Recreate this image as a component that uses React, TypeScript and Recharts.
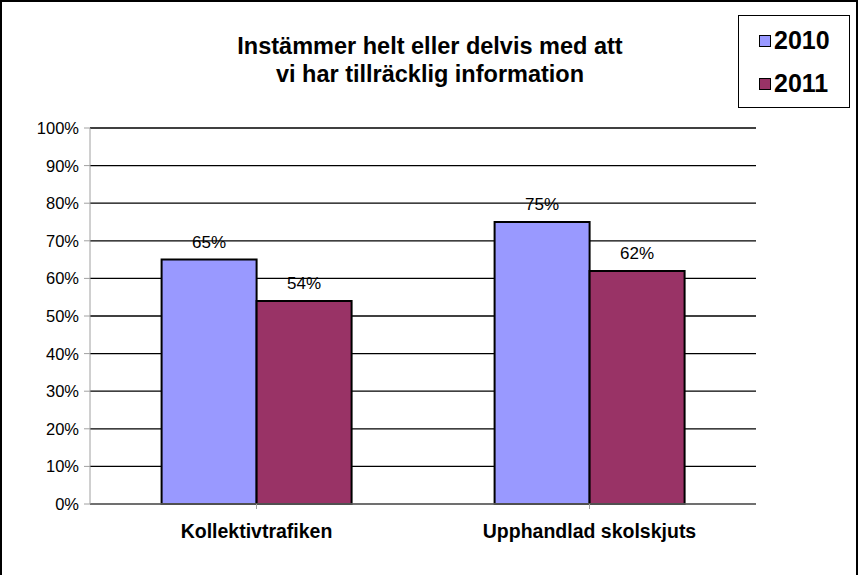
import React from "react";

import {
  Bar,
  BarChart,
  CartesianGrid,
  LabelList,
  XAxis,
  YAxis,
} from "recharts";

const categories = ["Kollektivtrafiken", "Upphandlad skolskjuts"];
const values2010 = [65, 75];
const values2011 = [54, 62];
const yTicks = [0, 10, 20, 30, 40, 50, 60, 70, 80, 90, 100];
const seriesNames = ["2010", "2011"];
const seriesColors = ["#9999ff", "#993366"];
const titleLines = [
  "Instämmer helt eller delvis med att",
  "vi har tillräcklig information",
];

const font = "'Liberation Sans', Arial, sans-serif";

const chartData = categories.map((name, i) => ({
  name,
  y2010: values2010[i],
  y2011: values2011[i],
}));

function CategoryTick(props: any) {
  const { x, y, payload } = props;
  return (
    <text
      x={x}
      y={y + 27}
      textAnchor="middle"
      fontFamily={font}
      fontWeight="bold"
      fontSize={19.5}
      fill="#000"
    >
      {payload.value}
    </text>
  );
}

function PercentTick(props: any) {
  const { x, y, payload } = props;
  return (
    <text
      x={x - 3}
      y={y + 6}
      textAnchor="end"
      fontFamily={font}
      fontSize={16.5}
      fill="#000"
    >
      {payload.value}%
    </text>
  );
}

function LegendBox() {
  return (
    <div
      style={{
        position: "absolute",
        left: 738,
        top: 15,
        width: 112,
        height: 93,
        border: "1.5px solid #000",
        background: "#fff",
        boxSizing: "border-box",
        fontFamily: font,
      }}
    >
      {seriesNames.map((label, i) => (
        <div
          key={label}
          style={{
            position: "absolute",
            left: 20,
            top: i === 0 ? 10 : 53,
            display: "flex",
            alignItems: "center",
          }}
        >
          <span
            style={{
              width: 10,
              height: 10,
              background: seriesColors[i],
              border: "1px solid #000",
              marginRight: 3,
            }}
          />
          <span style={{ fontSize: 25, fontWeight: "bold", color: "#000" }}>
            {label}
          </span>
        </div>
      ))}
    </div>
  );
}

const labelStyle = { fontFamily: font, fontSize: 17, fill: "#000" };

export default function App() {
  return (
    <div
      style={{
        position: "absolute",
        left: 0,
        top: 0,
        width: 859,
        height: 575,
        background: "#fff",
        overflow: "hidden",
      }}
    >
      <div
        style={{
          position: "absolute",
          left: 0,
          top: 0,
          width: 854,
          height: 580,
          borderLeft: "2px solid #000",
          borderTop: "2px solid #000",
          borderRight: "2px solid #000",
        }}
      />
      <div
        style={{
          position: "absolute",
          left: 180,
          top: 32,
          width: 500,
          textAlign: "center",
          fontFamily: font,
          fontWeight: "bold",
          fontSize: 23.5,
          lineHeight: "28px",
          color: "#000",
        }}
      >
        {titleLines.map((l) => (
          <div key={l}>{l}</div>
        ))}
      </div>
      <BarChart
        width={859}
        height={575}
        data={chartData}
        margin={{ top: 128, right: 103, bottom: 41, left: 0 }}
        barCategoryGap="21.5%"
        barGap={0}
        style={{ position: "absolute", left: 0, top: 0 }}
      >
        <CartesianGrid stroke="#000" vertical={false} strokeWidth={1.3} />
        <XAxis
          dataKey="name"
          height={30}
          stroke="#a0a0a0"
          tickLine={{ stroke: "#a0a0a0" }}
          tickSize={5}
          tick={<CategoryTick />}
          interval={0}
        />
        <YAxis
          width={90}
          domain={[0, 100]}
          ticks={yTicks}
          stroke="#a0a0a0"
          tickSize={6}
          tick={<PercentTick />}
          interval={0}
        />
        <Bar
          dataKey="y2010"
          name={seriesNames[0]}
          fill={seriesColors[0]}
          stroke="#000"
          strokeWidth={2}
          isAnimationActive={false}
        >
          <LabelList
            dataKey="y2010"
            position="top"
            offset={12}
            formatter={(v: any) => `${v}%`}
            style={labelStyle}
          />
        </Bar>
        <Bar
          dataKey="y2011"
          name={seriesNames[1]}
          fill={seriesColors[1]}
          stroke="#000"
          strokeWidth={2}
          isAnimationActive={false}
        >
          <LabelList
            dataKey="y2011"
            position="top"
            offset={12}
            formatter={(v: any) => `${v}%`}
            style={labelStyle}
          />
        </Bar>
      </BarChart>
      <LegendBox />
    </div>
  );
}
